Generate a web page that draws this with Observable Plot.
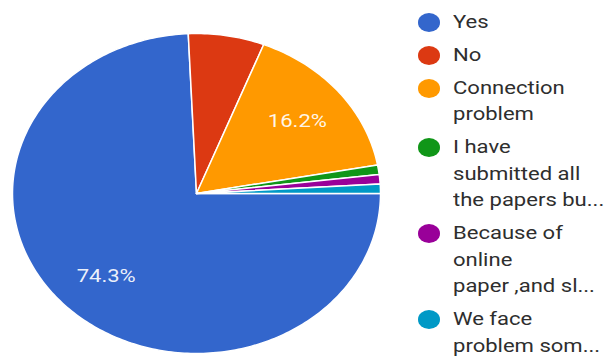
<!DOCTYPE html>
<html>
<head>
<meta charset="utf-8">
<script src="https://cdn.jsdelivr.net/npm/d3@7"></script>
<script src="https://cdn.jsdelivr.net/npm/@observablehq/plot@0.6"></script>
<style>
  html, body { margin: 0; padding: 0; background: #fff; }
  #wrap { position: relative; width: 608px; height: 356px; overflow: hidden; font-family: Roboto, "Noto Sans", sans-serif; }
  #legend { position: absolute; left: 418px; top: 8.75px; }
  .item { display: flex; align-items: flex-start; margin-bottom: 6.5px; }
  .dot { width: 22px; height: 19px; border-radius: 50%; margin-top: 3.75px; margin-right: 13px; flex: none; }
  .lines { font-size: 19px; line-height: 26.5px; color: #2e2e2e; white-space: nowrap; transform: scaleX(1.16); transform-origin: left center; }
</style>
</head>
<body>
<div id="wrap"><div id="chart"></div><div id="legend"></div></div>
<script>
const categories = ["Yes", "No", "Connection problem", "I have submitted all the papers bu...", "Because of online paper ,and sl...", "We face problem som..."];
const legendLines = [["Yes"], ["No"], ["Connection", "problem"], ["I have", "submitted all", "the papers bu..."], ["Because of", "online", "paper ,and sl..."], ["We face", "problem som..."]];
const counts = [78, 7, 17, 1, 1, 1];
const colors = ["#3366cc", "#dc3912", "#ff9900", "#109618", "#990099", "#0099c6"];
const startAngle = 90; // degrees clockwise from 12 o'clock

const total = d3.sum(counts);
let acc = startAngle;
const slices = categories.map((c, i) => {
  const span = counts[i] / total * 360;
  const s = {cat: c, a0: acc, a1: acc + span, pct: counts[i] / total * 100};
  acc += span;
  return s;
});

const rad = a => a * Math.PI / 180;
const poly = [];
for (const s of slices) {
  poly.push({cat: s.cat, x: 0, y: 0});
  const n = Math.max(2, Math.ceil(s.a1 - s.a0));
  for (let k = 0; k <= n; k++) {
    const a = s.a0 + (s.a1 - s.a0) * k / n;
    poly.push({cat: s.cat, x: Math.sin(rad(a)), y: Math.cos(rad(a))});
  }
  poly.push({cat: s.cat, x: 0, y: 0});
}
const labels = slices.filter(s => s.pct >= 10).map(s => {
  const m = (s.a0 + s.a1) / 2;
  return {x: 0.71 * Math.sin(rad(m)), y: 0.71 * Math.cos(rad(m)), text: s.pct.toFixed(1) + "%"};
});

const chart = Plot.plot({
  width: 608,
  height: 356,
  marginLeft: 12,
  marginRight: 228,
  marginTop: 33,
  marginBottom: 3,
  x: {domain: [-1, 1], axis: null},
  y: {domain: [-1, 1], axis: null},
  color: {domain: categories, range: colors},
  style: {fontFamily: "Roboto, sans-serif", background: "white"},
  marks: [
    Plot.line(poly, {x: "x", y: "y", z: "cat", fill: "cat", stroke: "white", strokeWidth: 1.5, strokeLinejoin: "round", curve: "linear"}),
    Plot.text(labels, {x: "x", y: "y", text: "text", fill: "white", fontSize: 19, fillOpacity: 0.92})
  ]
});
document.getElementById("chart").appendChild(chart);

// widen the slice labels horizontally like the (stretched) reference
d3.select(chart).selectAll("text").each(function() {
  const b = this.getBBox();
  const cx = b.x + b.width / 2, cy = b.y + b.height / 2;
  const prev = this.getAttribute("transform") || "";
  this.setAttribute("transform", `${prev} translate(${cx},${cy}) scale(1.16,1) translate(${-cx},${-cy})`);
});

const legend = d3.select("#legend");
categories.forEach((c, i) => {
  const item = legend.append("div").attr("class", "item");
  item.append("div").attr("class", "dot").style("background", colors[i]);
  const lines = item.append("div").attr("class", "lines");
  legendLines[i].forEach(t => lines.append("div").text(t));
});
</script>
</body>
</html>
